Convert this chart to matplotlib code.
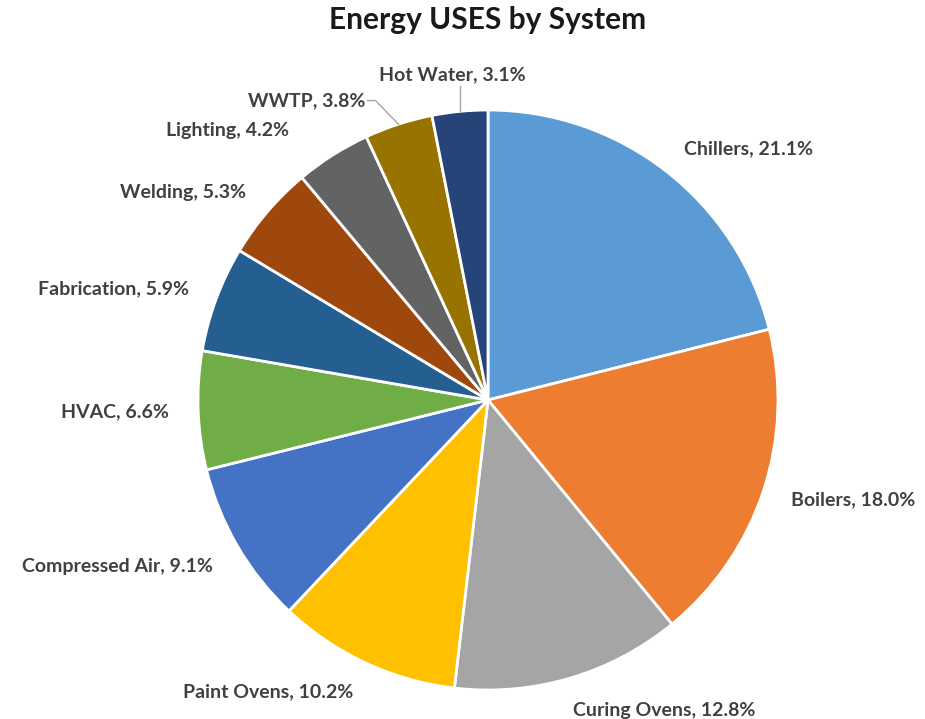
import numpy as np
import matplotlib.pyplot as plt

systems = ["Chillers", "Boilers", "Curing Ovens", "Paint Ovens", "Compressed Air",
           "HVAC", "Fabrication", "Welding", "Lighting", "WWTP", "Hot Water"]
shares = [21.1, 18.0, 12.8, 10.2, 9.1, 6.6, 5.9, 5.3, 4.2, 3.8, 3.1]
colors = ["#5B9BD5", "#ED7D31", "#A5A5A5", "#FFC000", "#4472C4", "#70AD47",
          "#255E91", "#9E480E", "#636363", "#997300", "#264478"]

W, H = 925, 719
cx, cy, R = 488, H - 400, 290

plt.rcParams['font.family'] = ['Lato', 'DejaVu Sans']

fig = plt.figure(figsize=(W / 100, H / 100), dpi=100)
ax = fig.add_axes([0, 0, 1, 1])
ax.axis('off')

wedges, _ = ax.pie(shares, colors=colors, startangle=90, counterclock=False,
                   center=(cx, cy), radius=R, normalize=True,
                   wedgeprops=dict(edgecolor="white", linewidth=2))
ax.set_xlim(0, W)
ax.set_ylim(0, H)
ax.set_aspect('equal')

# label nudges (pixels) where Excel moved crowded labels
nudge = {"Lighting": (-28, 0), "WWTP": (-24, -4), "Hot Water": (-5, 8),
         "Curing Ovens": (-5, -4), "Paint Ovens": (0, -3), "Compressed Air": (0, -6)}
leaders = {"WWTP", "Hot Water"}

for w, name, val in zip(wedges, systems, shares):
    ang = np.deg2rad((w.theta1 + w.theta2) / 2)
    ca, sa = np.cos(ang), np.sin(ang)
    d = 1.1 * R
    x, y = cx + d * ca, cy + d * sa
    if abs(ca) < 0.12:
        ha = "center"
    else:
        ha = "left" if ca > 0 else "right"
    dx, dy = nudge.get(name, (0, 0))
    x, y = x + dx, y + dy
    ax.text(x, y, f"{name}, {val:.1f}%", ha=ha, va="center", fontsize=14,
            fontweight="bold", color="#404040")
    if name in leaders:
        ex, ey = cx + R * ca, cy + R * sa
        if ha == "center":
            ax.plot([ex, ex], [ey, y - 11], color="#A6A6A6", lw=1)
        else:
            ax.plot([x + 2, x + 10, ex], [y, y, ey], color="#A6A6A6", lw=1)

ax.text(cx, H - 20, "Energy USES by System", ha="center", va="center",
        fontsize=21.5, fontweight="bold", color="#1a1a1a")

fig.savefig("out.png", dpi=100)
